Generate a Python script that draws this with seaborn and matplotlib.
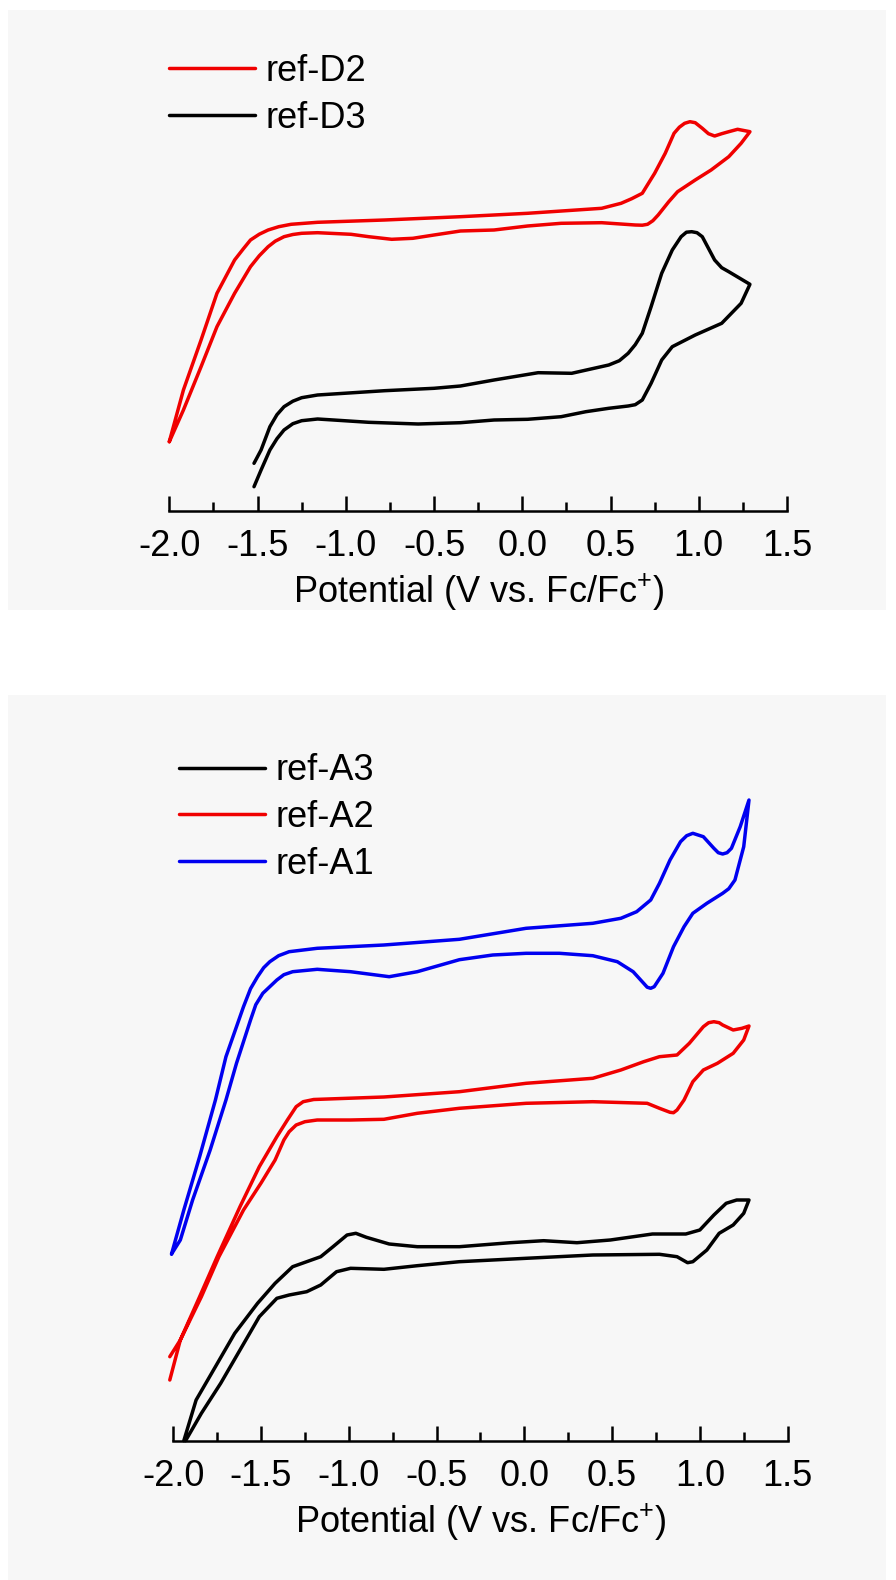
import matplotlib
matplotlib.use("Agg")
import matplotlib.pyplot as plt
from matplotlib.patches import Rectangle
from matplotlib.ticker import MultipleLocator
import numpy as np
import pandas as pd
import seaborn as sns

# ---------------- data: potential (V vs Fc/Fc+) and current (arb. units) ----------------
# upper panel
d2_potential = [-2.00, -1.92, -1.82, -1.73, -1.63, -1.58, -1.54, -1.49, -1.44, -1.38, -1.31, -1.16,
                -0.78, -0.35, 0.03, 0.45, 0.56, 0.62, 0.68, 0.71, 0.75, 0.81, 0.86, 0.89, 0.92, 0.95,
                0.98, 1.02, 1.055, 1.09, 1.13, 1.17, 1.22, 1.29,
                1.24, 1.17, 1.07, 0.98, 0.88, 0.83, 0.77, 0.74, 0.71, 0.68, 0.64, 0.45, 0.22, 0.03,
                -0.16, -0.35, -0.50, -0.62, -0.74, -0.87, -0.97, -1.16, -1.25, -1.30, -1.35, -1.40,
                -1.44, -1.49, -1.54, -1.63, -1.73, -1.82, -1.92, -2.00]
d2_current = [6.90, 12.07, 17.07, 21.74, 25.07, 26.20, 27.07, 27.65, 28.07, 28.40, 28.64, 28.84,
              29.07, 29.40, 29.74, 30.24, 30.74, 31.20, 31.74, 32.60, 33.74, 35.74, 37.74, 38.35, 38.74, 38.90,
              38.80, 38.24, 37.70, 37.47, 37.70, 37.90, 38.14, 37.90,
              36.74, 35.40, 34.07, 33.07, 31.90, 30.90, 29.57, 29.00, 28.64, 28.55, 28.57, 28.80, 28.74, 28.47,
              28.07, 27.97, 27.57, 27.24, 27.14, 27.40, 27.64, 27.80, 27.74, 27.62, 27.40, 26.95,
              26.40, 25.50, 24.40, 21.74, 18.40, 14.40, 10.07, 6.90]

d3_potential = [-1.52, -1.48, -1.43, -1.39, -1.35, -1.30, -1.25, -1.16, -0.78, -0.50, -0.35, -0.16,
                0.09, 0.28, 0.49, 0.55, 0.60, 0.64, 0.68, 0.73, 0.79, 0.85, 0.90, 0.93, 0.96, 0.99,
                1.02, 1.05, 1.09, 1.13, 1.17, 1.29,
                1.24, 1.13, 0.98, 0.85, 0.79, 0.76, 0.73, 0.68, 0.64, 0.60, 0.49, 0.36, 0.22, 0.03,
                -0.16, -0.35, -0.59, -0.87, -1.07, -1.16, -1.25, -1.30, -1.35, -1.39, -1.43, -1.48, -1.52]
d3_current = [4.74, 6.07, 8.40, 9.60, 10.40, 10.95, 11.30, 11.57, 12.00, 12.24, 12.47, 13.07,
              13.80, 13.74, 14.57, 15.00, 15.74, 16.60, 17.74, 20.40, 23.74, 26.07, 27.40, 27.85, 27.90, 27.80,
              27.40, 26.40, 25.07, 24.30, 23.90, 22.64,
              20.74, 18.74, 17.57, 16.40, 15.07, 13.90, 12.74, 11.07, 10.60, 10.47, 10.24, 9.90, 9.40, 9.14,
              9.07, 8.80, 8.67, 8.84, 9.07, 9.17, 9.00, 8.70, 8.07, 7.20, 6.07, 4.07, 2.40]

# lower panel
a1_potential = [-2.01, -1.94, -1.85, -1.76, -1.70, -1.60, -1.56, -1.52, -1.485, -1.45, -1.40, -1.34,
                -1.18, -0.80, -0.37, 0.01, 0.39, 0.55, 0.64, 0.72, 0.77, 0.83, 0.89, 0.925, 0.96, 1.02,
                1.08, 1.105, 1.13, 1.155, 1.18, 1.23, 1.28,
                1.25, 1.20, 1.165, 1.13, 1.04, 0.96, 0.91, 0.85, 0.79, 0.74, 0.72, 0.70, 0.68, 0.62,
                0.53, 0.39, 0.20, 0.01, -0.18, -0.37, -0.61, -0.77, -0.99, -1.18, -1.32, -1.37, -1.41,
                -1.49, -1.53, -1.56, -1.64, -1.70, -1.79, -1.89, -1.96, -2.01]
a1_current = [18.67, 23.07, 28.40, 34.07, 38.40, 43.40, 45.20, 46.40, 47.30, 47.90, 48.50, 48.90,
              49.24, 49.57, 50.14, 51.24, 51.74, 52.24, 52.90, 54.07, 55.74, 58.07, 59.90, 60.50, 60.74, 60.40,
              59.24, 58.80, 58.67, 58.80, 59.24, 61.40, 64.07,
              59.40, 56.07, 55.20, 54.74, 53.74, 52.74, 51.40, 49.40, 46.74, 45.40, 45.24, 45.35, 45.74, 46.90,
              47.90, 48.50, 48.74, 48.74, 48.57, 48.10, 46.90, 46.40, 46.90, 47.14, 46.90, 46.60, 46.07,
              44.74, 43.60, 42.07, 37.74, 34.07, 29.07, 24.07, 20.07, 18.67]

a2_potential = [-2.02, -1.96, -1.85, -1.75, -1.62, -1.51, -1.41, -1.35, -1.30, -1.26, -1.20, -0.80,
                -0.37, 0.01, 0.39, 0.55, 0.68, 0.77, 0.87, 0.94, 1.02, 1.05, 1.08, 1.11, 1.13, 1.19,
                1.24, 1.28,
                1.25, 1.19, 1.10, 1.02, 0.96, 0.91, 0.87, 0.85, 0.83, 0.77, 0.70, 0.39, 0.01, -0.37,
                -0.61, -0.80, -0.99, -1.18, -1.25, -1.30, -1.34, -1.37, -1.42, -1.50, -1.60, -1.74,
                -1.84, -1.96, -2.02]
a2_current = [6.07, 10.07, 14.40, 18.40, 23.40, 27.40, 30.40, 32.07, 33.40, 33.90, 34.12, 34.37,
              34.90, 35.74, 36.24, 37.07, 37.90, 38.40, 38.57, 39.74, 41.40, 41.80, 41.90, 41.80, 41.57, 41.07,
              41.24, 41.47,
              40.07, 38.74, 37.74, 37.07, 35.90, 34.07, 33.07, 32.80, 32.84, 33.24, 33.74, 33.90, 33.74, 33.24,
              32.74, 32.14, 32.07, 32.07, 31.90, 31.57, 30.90, 30.07, 28.07, 25.77, 23.07, 18.40,
              14.40, 10.07, 8.40]

a3_potential = [-1.94, -1.87, -1.76, -1.65, -1.52, -1.42, -1.32, -1.24, -1.16, -1.09, -1.01, -0.96,
                -0.90, -0.77, -0.61, -0.37, -0.08, 0.11, 0.30, 0.49, 0.73, 0.92, 1.00, 1.08, 1.15,
                1.21, 1.28,
                1.25, 1.19, 1.11, 1.04, 0.96, 0.93, 0.87, 0.77, 0.39, 0.01, -0.37, -0.61, -0.80,
                -0.99, -1.07, -1.16, -1.24, -1.34, -1.41, -1.51, -1.62, -1.73, -1.84, -1.93]
a3_current = [0.00, 4.07, 7.40, 10.74, 13.74, 15.74, 17.40, 17.90, 18.40, 19.40, 20.57, 20.74,
              20.34, 19.67, 19.40, 19.40, 19.80, 20.00, 19.80, 20.07, 20.67, 20.67, 21.07, 22.57, 23.74,
              24.07, 24.07,
              22.74, 21.57, 20.74, 19.07, 17.90, 17.80, 18.40, 18.64, 18.57, 18.24, 17.90, 17.50, 17.14,
              17.24, 16.90, 15.57, 14.90, 14.57, 14.24, 12.40, 9.07, 5.74, 2.74, 0.00]

top_series = [("ref-D2", d2_potential, d2_current, "#f00000"),
              ("ref-D3", d3_potential, d3_current, "#000000")]
bottom_series = [("ref-A3", a3_potential, a3_current, "#000000"),
                 ("ref-A2", a2_potential, a2_current, "#f00000"),
                 ("ref-A1", a1_potential, a1_current, "#0000f0")]

x_ticks = [-2.0, -1.5, -1.0, -0.5, 0.0, 0.5, 1.0, 1.5]
x_label = r"Potential (V vs. Fc/Fc$^{+}$)"

# ---------------- style ----------------
sns.set_theme(style="white")
plt.rcParams["font.family"] = ["Liberation Sans", "DejaVu Sans"]
plt.rcParams["mathtext.fontset"] = "custom"
plt.rcParams["mathtext.rm"] = "Liberation Sans"
plt.rcParams["mathtext.default"] = "regular"
plt.rcParams["text.color"] = "black"
plt.rcParams["axes.labelcolor"] = "black"
plt.rcParams["xtick.color"] = "black"

W, H = 896, 1580
fig = plt.figure(figsize=(W / 100, H / 100), dpi=100)
fig.patch.set_facecolor("white")

# light panel backgrounds behind each plot
for (y0, y1) in [(10, 610), (695, 1580)]:
    fig.patches.append(Rectangle((8 / W, 1 - y1 / H), (886 - 8) / W, (y1 - y0) / H,
                                 transform=fig.transFigure, facecolor="#f7f7f7",
                                 edgecolor="none", zorder=-10))


def px_axes(x_left, x_right, y_top, y_bottom):
    ax = fig.add_axes([x_left / W, 1 - y_bottom / H, (x_right - x_left) / W, (y_bottom - y_top) / H])
    ax.set_zorder(5)
    return ax


FS = 26
LW = 2.5


def style_axes(ax, ymax, labelpad):
    ax.set_facecolor("none")
    ax.patch.set_alpha(0)
    ax.set_xlim(-2.0, 1.5)
    ax.set_ylim(0, ymax)
    ax.set_xticks(x_ticks)
    ax.set_xticklabels([f"{t:.1f}" for t in x_ticks])
    ax.xaxis.set_minor_locator(MultipleLocator(0.25))
    ax.set_yticks([])
    ax.set_ylabel("")
    for s in ["left", "right", "top"]:
        ax.spines[s].set_visible(False)
    ax.spines["bottom"].set_linewidth(1.8)
    ax.spines["bottom"].set_color("black")
    ax.tick_params(axis="x", which="major", direction="in", length=10.6, width=1.8,
                   pad=13, labelsize=FS, colors="black", bottom=True)
    ax.tick_params(axis="x", which="minor", direction="in", length=6.3, width=1.8,
                   bottom=True, colors="black")
    ax.set_xlabel(x_label, fontsize=FS, labelpad=labelpad, color="black")


def draw(ax, series):
    for name, pot, cur, color in series:
        df = pd.DataFrame({"Potential": pot, "Current": cur})
        sns.lineplot(data=df, x="Potential", y="Current", sort=False, estimator=None,
                     color=color, linewidth=LW, label=name, ax=ax, clip_on=False,
                     solid_joinstyle="round", solid_capstyle="round")


legend_kw = dict(loc="upper left", bbox_transform=fig.transFigure, frameon=False, fontsize=FS,
                 handlelength=2.38, handletextpad=0.28, labelspacing=0.32,
                 borderpad=0, borderaxespad=0)

# upper panel
ax1 = px_axes(169.3, 787.0, 40, 510.7)
draw(ax1, top_series)
style_axes(ax1, (510.7 - 40) / 10, labelpad=6)
ax1.legend(bbox_to_anchor=(169 / W, 1 - 54 / H), **legend_kw)

# lower panel
ax2 = px_axes(173.3, 787.6, 740, 1440.7)
draw(ax2, bottom_series)
style_axes(ax2, (1440.7 - 740) / 10, labelpad=6)
ax2.legend(bbox_to_anchor=(179 / W, 1 - 753.5 / H), **legend_kw)

fig.savefig("out.png", dpi=100, facecolor="white")
